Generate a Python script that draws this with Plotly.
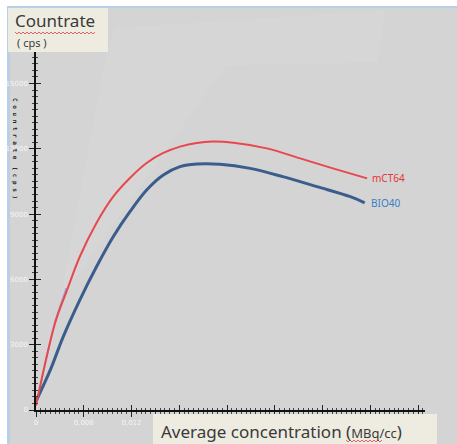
import plotly.graph_objects as go

# ---- data ----
mct64_x = [0.0, 0.0024, 0.0039, 0.0055, 0.0076, 0.0097, 0.0118, 0.0139, 0.0160, 0.0181,
           0.0202, 0.0222, 0.0248, 0.0290, 0.0332, 0.0373, 0.0416]
mct64_y = [200, 4000, 5510, 7040, 8590, 9800, 10660, 11350, 11810, 12100,
           12270, 12330, 12280, 12020, 11560, 11100, 10640]
bio40_x = [0.0, 0.0018, 0.0034, 0.0055, 0.0076, 0.0097, 0.0118, 0.0139, 0.0160, 0.0181,
           0.0202, 0.0231, 0.0269, 0.0310, 0.0353, 0.0395, 0.0413]
bio40_y = [400, 1840, 3350, 5050, 6580, 7960, 9110, 10110, 10800, 11180,
           11300, 11290, 11100, 10720, 10260, 9800, 9520]
ghost_x = [0.0, 0.0024, 0.0038]
ghost_y = [250, 4100, 5600]
x_ticks = [0, 0.006, 0.012, 0.018, 0.024, 0.030, 0.036, 0.042, 0.048]
x_tick_labels = ["0", "0.006", "0.012", "", "", "", "", "", ""]  # rest hidden by the title box
y_ticks = [0, 3000, 6000, 9000, 12000, 15000]
y_tick_labels = ["0", "3000", "6000", "9000", "12000", "15000"]

W, H = 457, 444
ML, MR, MT, MB = 36, 32, 50, 34
PW, PH = W - ML - MR, H - MT - MB


def px(x):
    return (x - ML) / PW


def py(y):
    return (H - MB - y) / PH


fig = go.Figure()
fig.add_trace(go.Scatter(x=ghost_x, y=ghost_y, mode="lines",
                         line=dict(color="rgba(60,60,235,0.35)", width=1.5), hoverinfo="skip"))
fig.add_trace(go.Scatter(x=bio40_x, y=bio40_y, mode="lines", name="BIO40",
                         line=dict(color="#3b5d8c", width=3, shape="spline")))
fig.add_trace(go.Scatter(x=mct64_x, y=mct64_y, mode="lines", name="mCT64",
                         line=dict(color="#e8474c", width=2, shape="spline")))
# overlay axes for crossing ticks
fig.add_trace(go.Scatter(x=[0], y=[0], xaxis="x2", yaxis="y2", mode="markers",
                         marker=dict(opacity=0), hoverinfo="skip"))

xr = [0, (W - MR - ML) / 47.75 * 0.006]
yr = [0, PH * 3000 / 65.3]
tickfont = dict(family="DejaVu Sans", size=7, color="#f4f4f4")

fig.update_layout(
    width=W, height=H,
    margin=dict(l=ML, r=MR, t=MT, b=MB, autoexpand=False),
    paper_bgcolor="white",
    plot_bgcolor="rgba(0,0,0,0)",
    showlegend=False,
    xaxis=dict(range=xr, tickvals=x_ticks, ticktext=x_tick_labels, showgrid=False,
               zeroline=False, showline=True, linecolor="#111", linewidth=1.5,
               ticks="outside", ticklen=5, tickwidth=1, tickcolor="#222",
               tickfont=tickfont,
               minor=dict(dtick=0.0006, ticks="outside", ticklen=2, tickcolor="#444", showgrid=False)),
    yaxis=dict(range=yr, tickvals=y_ticks, ticktext=y_tick_labels, showgrid=False,
               zeroline=False, showline=True, linecolor="#111", linewidth=1.5,
               ticks="outside", ticklen=5, tickwidth=1, tickcolor="#222",
               tickfont=tickfont,
               minor=dict(dtick=300, ticks="outside", ticklen=2, tickcolor="#444", showgrid=False)),
    xaxis2=dict(range=xr, overlaying="x", anchor="y", side="bottom", tickvals=x_ticks,
                showticklabels=False, showgrid=False, zeroline=False, showline=False,
                ticks="inside", ticklen=5, tickwidth=1, tickcolor="#222",
                minor=dict(dtick=0.0006, ticks="inside", ticklen=2, tickcolor="#444")),
    yaxis2=dict(range=yr, overlaying="y", anchor="x", side="left", tickvals=y_ticks,
                showticklabels=False, showgrid=False, zeroline=False, showline=False,
                ticks="inside", ticklen=5, tickwidth=1, tickcolor="#222",
                minor=dict(dtick=300, ticks="inside", ticklen=2, tickcolor="#444")),
)

shapes = []
# gray panel background
shapes.append(dict(type="rect", xref="paper", yref="paper", layer="below",
                   x0=px(9), x1=px(W), y0=py(H), y1=py(7),
                   fillcolor="#d4d4d4", line=dict(width=0)))
# subtle lighter sweep
shapes.append(dict(type="path", xref="paper", yref="paper", layer="below",
                   path=f"M {px(115)} {py(28)} L {px(385)} {py(10)} L {px(378)} {py(62)} "
                        f"L {px(225)} {py(66)} L {px(60)} {py(300)} L {px(105)} {py(60)} Z",
                   fillcolor="rgba(255,255,255,0.06)", line=dict(width=0)))
# blue border lines
shapes.append(dict(type="rect", xref="paper", yref="paper", layer="below",
                   x0=px(9), x1=px(W), y0=py(8), y1=py(6),
                   fillcolor="#b9cfe6", line=dict(width=0)))
shapes.append(dict(type="rect", xref="paper", yref="paper", layer="below",
                   x0=px(7), x1=px(10), y0=py(H), y1=py(6),
                   fillcolor="#b9cfe6", line=dict(width=0)))
# title boxes
shapes.append(dict(type="rect", xref="paper", yref="paper", layer="above",
                   x0=px(8), x1=px(108), y0=py(52), y1=py(8),
                   fillcolor="#eeece1", line=dict(width=0)))
shapes.append(dict(type="rect", xref="paper", yref="paper", layer="above",
                   x0=px(153), x1=px(437), y0=py(H), y1=py(414),
                   fillcolor="#eeece1", line=dict(width=0)))


def wavy(x0, x1, y):
    pts = []
    x = x0
    up = True
    while x <= x1:
        pts.append(f"{px(x)} {py(y - 1 if up else y + 1)}")
        up = not up
        x += 2
    return "M " + " L ".join(pts)


shapes.append(dict(type="path", xref="paper", yref="paper", layer="above",
                   path=wavy(15, 96, 33), line=dict(color="#e04040", width=0.8)))
shapes.append(dict(type="path", xref="paper", yref="paper", layer="above",
                   path=wavy(346, 382, 441), line=dict(color="#e04040", width=0.8)))
fig.update_layout(shapes=shapes)

ann = []
ann.append(dict(xref="paper", yref="paper", x=px(13), y=py(20), xanchor="left", yanchor="middle",
                text="Countrate", showarrow=False,
                font=dict(family="Noto Sans", size=17, color="#3a3a3a")))
ann.append(dict(xref="paper", yref="paper", x=px(15), y=py(42), xanchor="left", yanchor="middle",
                text="( cps )", showarrow=False,
                font=dict(family="Noto Sans", size=11, color="#3a3a3a")))
ann.append(dict(xref="paper", yref="paper", x=px(159), y=py(431), xanchor="left", yanchor="middle",
                text="Average concentration (<span style='font-size:13px'>MBq/cc</span>)",
                showarrow=False,
                font=dict(family="Noto Sans", size=17, color="#3a3a3a")))
ann.append(dict(xref="paper", yref="paper", x=px(15), y=py(148), xanchor="center", yanchor="middle",
                text="<b>C o u n t r a t e  ( c p s )</b>", textangle=90, showarrow=False,
                font=dict(family="DejaVu Sans Mono", size=6, color="#222")))
ann.append(dict(x=mct64_x[-1], y=mct64_y[-1], xanchor="left", yanchor="middle", xshift=3,
                text="mCT64", showarrow=False,
                font=dict(family="Noto Sans", size=10, color="#e53535")))
ann.append(dict(x=bio40_x[-1], y=bio40_y[-1], xanchor="left", yanchor="middle", xshift=4,
                text="BIO40", showarrow=False,
                font=dict(family="Noto Sans", size=10, color="#3c7fc8")))
fig.update_layout(annotations=ann)

fig.write_html("out.html", config={"displayModeBar": False},
               post_script="document.body.style.margin='0';")
